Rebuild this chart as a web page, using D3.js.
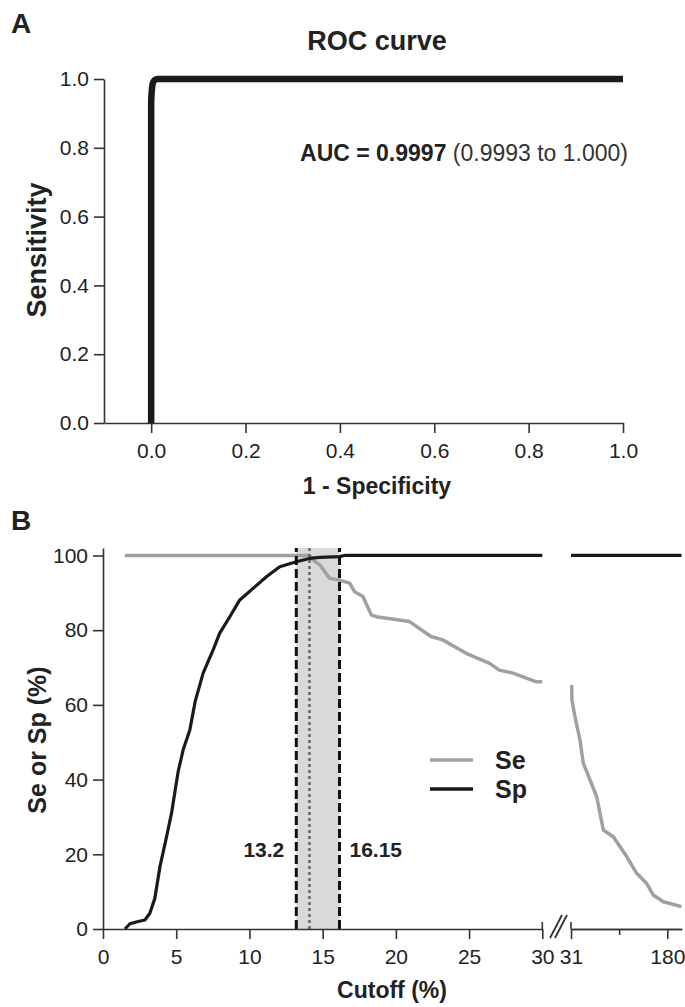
<!DOCTYPE html>
<html>
<head>
<meta charset="utf-8">
<script src="https://cdn.jsdelivr.net/npm/d3@7"></script>
<style>
  body { margin: 0; background: #fff; }
  text { font-family: "Liberation Sans", Arial, sans-serif; fill: #222; }
</style>
</head>
<body>
<svg id="canvas"></svg>
<script>
// ROC data (panel A)
const rocFpr = [0, 0, 0, 0.001, 0.003, 0.006, 0.012, 0.2, 0.45, 0.7, 1.0];
const rocTpr = [0, 0.5, 0.93, 0.96, 0.985, 0.995, 1, 1, 1, 1, 1];
const rocTicks = [0, 0.2, 0.4, 0.6, 0.8, 1.0];

// Se / Sp vs cutoff (panel B), left segment 0-30, right segment 31-180+
const seCutLeft = [1.5, 14.1, 14.34, 14.8, 15.47, 16.16, 16.84, 17.18, 17.75, 18.32, 18.66, 20.93, 22.4, 23.2, 24.8, 26.4, 27.06, 28, 29.55, 30];
const seLeft    = [100, 100, 98.8, 97.5, 93.9, 93.4, 92.6, 90.3, 89, 84.1, 83.6, 82.3, 78.3, 77.4, 73.8, 71.1, 69.3, 68.5, 66.2, 66.2];
const seCutRight = [32, 32.5, 37.2, 44.9, 50, 60.4, 70.8, 81, 96.4, 117.2, 132.6, 148.1, 158.3, 173.8, 202];
const seRight    = [65.3, 61.3, 56.8, 50.6, 44.4, 39.9, 35.4, 26.5, 24.7, 19.4, 14.9, 12.2, 9.1, 7.3, 6.0];

const spCutLeft = [1.5, 1.84, 2.4, 2.86, 3.2, 3.54, 3.89, 4.34, 4.68, 5.13, 5.47, 5.93, 6.3, 6.84, 7.52, 7.97, 8.66, 9.34, 10.25, 11.16, 12.07, 13.2, 14.1, 14.8, 16.15, 16.5, 30];
const spLeft    = [0, 1.4, 2.0, 2.4, 4.2, 8.2, 16.7, 24.7, 31, 42.1, 47.9, 53.3, 61, 68.5, 74.7, 79.2, 83.6, 88.1, 91.2, 94.3, 97, 98.3, 99.2, 99.5, 99.7, 100, 100];
const spCutRight = [31, 202];
const spRight    = [100, 100];

const ciLow = 13.2, ciHigh = 16.15, bestCut = 14.1;
const leftTicks = [0, 5, 10, 15, 20, 25, 30];
const rightTicks = [31, 180];
const rightMinorTicks = [105.5];
const seSpTicks = [0, 20, 40, 60, 80, 100];

const width = 685, height = 1007;
const svg = d3.select("#canvas").attr("width", width).attr("height", height);

const axisColor = "#333";
function styleAxis(g) {
  g.selectAll("path, line").attr("stroke", axisColor).attr("stroke-width", 1.6);
  g.selectAll("text").attr("font-size", 21).attr("fill", "#333")
    .style("font-family", "'Liberation Sans', Arial, sans-serif");
}

// ---------- panel A ----------
const xA = d3.scaleLinear().domain([-0.1, 1]).range([104, 623]);
const yA = d3.scaleLinear().domain([0, 1]).range([423, 79]);

svg.append("text").attr("x", 11).attr("y", 33)
  .attr("font-size", 28).attr("font-weight", "bold").text("A");

svg.append("text").attr("x", 377).attr("y", 50).attr("text-anchor", "middle")
  .attr("font-size", 27).attr("font-weight", "bold").text("ROC curve");

svg.append("g")
  .attr("transform", `translate(0,${yA(0)})`)
  .call(d3.axisBottom(xA).tickValues(rocTicks).tickFormat(d3.format(".1f"))
    .tickSize(10).tickPadding(10).tickSizeOuter(0))
  .call(styleAxis);

svg.append("g")
  .attr("transform", `translate(${xA(-0.1)},0)`)
  .call(d3.axisLeft(yA).tickValues(rocTicks).tickFormat(d3.format(".1f"))
    .tickSize(10).tickPadding(5).tickSizeOuter(0))
  .call(styleAxis);

const rocData = rocFpr.map((d, i) => [d, rocTpr[i]]);
svg.append("path")
  .datum(rocData)
  .attr("fill", "none")
  .attr("stroke", "#1a1a1a")
  .attr("stroke-width", 6.5)
  .attr("stroke-linejoin", "round")
  .attr("stroke-linecap", "butt")
  .attr("d", d3.line().x(d => xA(d[0])).y(d => yA(d[1])).curve(d3.curveMonotoneY));

svg.append("text").attr("x", 628).attr("y", 161).attr("text-anchor", "end")
  .attr("font-size", 23)
  .call(t => {
    t.append("tspan").attr("font-weight", "bold").text("AUC = 0.9997 ");
    t.append("tspan").attr("fill", "#333").text("(0.9993 to 1.000)");
  });

svg.append("text")
  .attr("transform", `translate(${377},${494})`)
  .attr("text-anchor", "middle").attr("font-size", 23).attr("font-weight", "bold")
  .text("1 - Specificity");

svg.append("text")
  .attr("transform", `translate(${46},${250}) rotate(-90)`)
  .attr("text-anchor", "middle").attr("font-size", 27).attr("font-weight", "bold")
  .text("Sensitivity");

// ---------- panel B ----------
const xL = d3.scaleLinear().domain([0, 30]).range([103, 542.3]);
const xR = d3.scaleLinear().domain([31, 202.3]).range([571, 681.7]);
const yB = d3.scaleLinear().domain([0, 102]).range([929, 548]);

svg.append("text").attr("x", 11).attr("y", 530)
  .attr("font-size", 28).attr("font-weight", "bold").text("B");

// CI band + cutoff lines
svg.append("rect")
  .attr("x", xL(ciLow)).attr("width", xL(ciHigh) - xL(ciLow))
  .attr("y", yB(102)).attr("height", yB(0) - yB(102))
  .attr("fill", "#d9d9db");

const line = d3.line().x(d => d[0]).y(d => d[1]);
const seL = seCutLeft.map((c, i) => [xL(c), yB(seLeft[i])]);
const seR = seCutRight.map((c, i) => [xR(c), yB(seRight[i])]);
const spL = spCutLeft.map((c, i) => [xL(c), yB(spLeft[i])]);
const spR = spCutRight.map((c, i) => [xR(c), yB(spRight[i])]);

[seL, seR].forEach(pts => svg.append("path").datum(pts)
  .attr("fill", "none").attr("stroke", "#a0a0a0").attr("stroke-width", 3.5)
  .attr("stroke-linejoin", "round").attr("d", line));
[spL, spR].forEach(pts => svg.append("path").datum(pts)
  .attr("fill", "none").attr("stroke", "#1a1a1a").attr("stroke-width", 3.2)
  .attr("stroke-linejoin", "round").attr("d", line));

[ciLow, ciHigh].forEach(c => svg.append("line")
  .attr("x1", xL(c)).attr("x2", xL(c)).attr("y1", yB(0)).attr("y2", yB(102))
  .attr("stroke", "#111").attr("stroke-width", 3).attr("stroke-dasharray", "9,4"));
svg.append("line")
  .attr("x1", xL(bestCut)).attr("x2", xL(bestCut)).attr("y1", yB(0)).attr("y2", yB(102))
  .attr("stroke", "#666").attr("stroke-width", 2.5).attr("stroke-dasharray", "3,3");

svg.append("text").attr("x", xL(ciLow) - 12).attr("y", 857).attr("text-anchor", "end")
  .attr("font-size", 21).attr("font-weight", "bold").text("13.2");
svg.append("text").attr("x", xL(ciHigh) + 10).attr("y", 857)
  .attr("font-size", 21).attr("font-weight", "bold").text("16.15");

// axes
svg.append("g")
  .attr("transform", `translate(0,${yB(0)})`)
  .call(d3.axisBottom(xL).tickValues(leftTicks).tickSize(10).tickPadding(10).tickSizeOuter(0))
  .call(styleAxis);
svg.append("g")
  .attr("transform", `translate(0,${yB(0)})`)
  .call(d3.axisBottom(xR).tickValues(rightTicks).tickSize(10).tickPadding(10).tickSizeOuter(0))
  .call(styleAxis);
svg.append("g")
  .attr("transform", `translate(0,${yB(0)})`)
  .call(d3.axisBottom(xR).tickValues(rightMinorTicks).tickFormat("").tickSize(6).tickSizeOuter(0))
  .call(styleAxis);
// end caps at the break
[xL(30), xR(31)].forEach(x => svg.append("line")
  .attr("x1", x).attr("x2", x).attr("y1", yB(0) - 7).attr("y2", yB(0))
  .attr("stroke", axisColor).attr("stroke-width", 1.6));
// break marks //
[0, 5].forEach(dx => svg.append("line")
  .attr("x1", 550 + dx).attr("y1", 938).attr("x2", 562 + dx).attr("y2", 915)
  .attr("stroke", axisColor).attr("stroke-width", 1.8));

svg.append("g")
  .attr("transform", `translate(${xL(0)},0)`)
  .call(d3.axisLeft(yB).tickValues(seSpTicks).tickSize(10).tickPadding(5).tickSizeOuter(0))
  .call(styleAxis);

svg.append("text")
  .attr("transform", `translate(${392},${998})`)
  .attr("text-anchor", "middle").attr("font-size", 23).attr("font-weight", "bold")
  .text("Cutoff (%)");
svg.append("text")
  .attr("transform", `translate(${46},${740}) rotate(-90)`)
  .attr("text-anchor", "middle").attr("font-size", 25).attr("font-weight", "bold")
  .text("Se or Sp (%)");

// legend
const legend = [["Se", "#a0a0a0", 760], ["Sp", "#1a1a1a", 789]];
legend.forEach(([name, color, y]) => {
  svg.append("line").attr("x1", 430).attr("x2", 473).attr("y1", y).attr("y2", y)
    .attr("stroke", color).attr("stroke-width", 3.5);
  svg.append("text").attr("x", 495).attr("y", y + 9)
    .attr("font-size", 25).attr("font-weight", "bold").text(name);
});
</script>
</body>
</html>
